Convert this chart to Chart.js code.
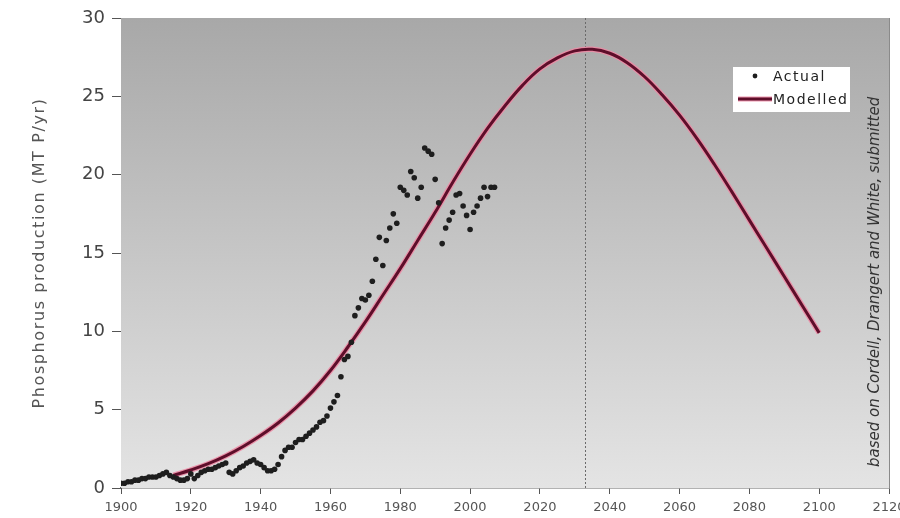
<!DOCTYPE html>
<html>
<head>
<meta charset="utf-8">
<script src="https://cdn.jsdelivr.net/npm/chart.js@4.4.1/dist/chart.umd.min.js"></script>
<style>
  html, body { margin: 0; padding: 0; background: #fff; }
  #wrap { width: 900px; height: 518px; }
</style>
</head>
<body>
<div id="wrap"><canvas id="phosChart" width="900" height="518"></canvas></div>
<script>
// Actual production (one dot per year)
const actualYears = [
  1900, 1901, 1902, 1903, 1904, 1905, 1906, 1907, 1908, 1909,
  1910, 1911, 1912, 1913, 1914, 1915, 1916, 1917, 1918, 1919,
  1920, 1921, 1922, 1923, 1924, 1925, 1926, 1927, 1928, 1929,
  1930, 1931, 1932, 1933, 1934, 1935, 1936, 1937, 1938, 1939,
  1940, 1941, 1942, 1943, 1944, 1945, 1946, 1947, 1948, 1949,
  1950, 1951, 1952, 1953, 1954, 1955, 1956, 1957, 1958, 1959,
  1960, 1961, 1962, 1963, 1964, 1965, 1966, 1967, 1968, 1969,
  1970, 1971, 1972, 1973, 1974, 1975, 1976, 1977, 1978, 1979,
  1980, 1981, 1982, 1983, 1984, 1985, 1986, 1987, 1988, 1989,
  1990, 1991, 1992, 1993, 1994, 1995, 1996, 1997, 1998, 1999,
  2000, 2001, 2002, 2003, 2004, 2005, 2006, 2007
];
const actualValues = [
  0.3, 0.3, 0.4, 0.4, 0.5, 0.5, 0.6, 0.6, 0.7, 0.7,
  0.7, 0.8, 0.9, 1.0, 0.8, 0.7, 0.6, 0.5, 0.5, 0.6,
  0.9, 0.6, 0.8, 1.0, 1.1, 1.2, 1.2, 1.3, 1.4, 1.5,
  1.6, 1.0, 0.9, 1.1, 1.3, 1.4, 1.6, 1.7, 1.8, 1.6,
  1.5, 1.3, 1.1, 1.1, 1.2, 1.5, 2.0, 2.4, 2.6, 2.6,
  2.9, 3.1, 3.1, 3.3, 3.5, 3.7, 3.9, 4.2, 4.3, 4.6,
  5.1, 5.5, 5.9, 7.1, 8.2, 8.4, 9.3, 11.0, 11.5, 12.1,
  12.0, 12.3, 13.2, 14.6, 16.0, 14.2, 15.8, 16.6, 17.5, 16.9,
  19.2, 19.0, 18.7, 20.2, 19.8, 18.5, 19.2, 21.7, 21.5, 21.3,
  19.7, 18.2, 15.6, 16.6, 17.1, 17.6, 18.7, 18.8, 18.0, 17.4,
  16.5, 17.6, 18.0, 18.5, 19.2, 18.6, 19.2, 19.2
];

// Modelled curve (Hubbert-style peak)
const modelYears = [
  1915, 1920, 1925, 1930, 1935, 1940, 1945, 1950, 1955, 1960,
  1965, 1970, 1975, 1980, 1985, 1990, 1995, 2000, 2005, 2010,
  2015, 2020, 2025, 2030, 2035, 2040, 2045, 2050, 2055, 2060,
  2065, 2070, 2075, 2080, 2085, 2090, 2095, 2100
];
const modelValues = [
  0.8, 1.15, 1.55, 2.05, 2.65, 3.35, 4.15, 5.1, 6.2, 7.5,
  9.0, 10.6, 12.3, 14.0, 15.8, 17.6, 19.5, 21.3, 22.95, 24.4,
  25.7, 26.75, 27.45, 27.9, 28.0, 27.75, 27.15, 26.25, 25.1, 23.8,
  22.3, 20.65, 18.9, 17.1, 15.3, 13.5, 11.7, 9.9
];

const peakYear = 2033;
const xTicks = [1900, 1920, 1940, 1960, 1980, 2000, 2020, 2040, 2060, 2080, 2100, 2120];
const yTicks = [0, 5, 10, 15, 20, 25, 30];

const yTitle = 'Phosphorus production (MT P/yr)';
const sourceNote = 'based on Cordell, Drangert and White, submitted';
const legendLabels = ['Actual', 'Modelled'];

const actualPoints = actualYears.map((yr, i) => ({ x: yr, y: actualValues[i] }));
const modelPoints = modelYears.map((yr, i) => ({ x: yr, y: modelValues[i] }));

const FONT = "'DejaVu Sans', sans-serif";
const HALO = 'rgba(236,140,165,0.9)';
const CORE = '#5e0e2a';

// grey gradient behind the plot, right border, dotted peak marker
const plotDecor = {
  id: 'plotDecor',
  beforeDatasetsDraw(chart) {
    const { ctx, chartArea: a, scales } = chart;
    ctx.save();
    const g = ctx.createLinearGradient(0, a.top, 0, a.bottom);
    g.addColorStop(0, '#a8a8a8');
    g.addColorStop(1, '#e4e4e4');
    ctx.fillStyle = g;
    ctx.fillRect(a.left, a.top, a.right - a.left, a.bottom - a.top);

    ctx.strokeStyle = '#8a8a8a';
    ctx.lineWidth = 1;
    ctx.beginPath();
    ctx.moveTo(a.right + 0.5, a.top);
    ctx.lineTo(a.right + 0.5, a.bottom);
    ctx.stroke();

    const px = Math.round(scales.x.getPixelForValue(peakYear)) + 0.5;
    ctx.strokeStyle = '#6a6a6a';
    ctx.setLineDash([2, 2]);
    ctx.beginPath();
    ctx.moveTo(px, a.top);
    ctx.lineTo(px, a.bottom);
    ctx.stroke();
    ctx.restore();
  },
  afterDraw(chart) {
    const { ctx, chartArea: a } = chart;
    ctx.save();
    // y axis title, spaced out like the original geometric face
    ctx.save();
    ctx.translate(44, (a.top + a.bottom) / 2);
    ctx.rotate(-Math.PI / 2);
    ctx.font = '16px ' + FONT;
    ctx.letterSpacing = '1.6px';
    ctx.fillStyle = '#555';
    ctx.textAlign = 'center';
    ctx.textBaseline = 'alphabetic';
    ctx.fillText(yTitle, 0, 0);
    ctx.restore();

    // legend box
    const bx = a.right - 156, by = a.top + 49, bw = 117, bh = 45;
    ctx.fillStyle = '#ffffff';
    ctx.fillRect(bx, by, bw, bh);
    ctx.fillStyle = '#1e1e1e';
    ctx.beginPath();
    ctx.arc(bx + 22, by + 9, 2.4, 0, Math.PI * 2);
    ctx.fill();
    [[HALO, 5], [CORE, 3]].forEach(([c, w]) => {
      ctx.strokeStyle = c;
      ctx.lineWidth = w;
      ctx.beginPath();
      ctx.moveTo(bx + 5, by + 32);
      ctx.lineTo(bx + 39, by + 32);
      ctx.stroke();
    });
    ctx.fillStyle = '#222';
    ctx.font = '14px ' + FONT;
    ctx.letterSpacing = '1.5px';
    ctx.textBaseline = 'middle';
    ctx.fillText(legendLabels[0], bx + 40, by + 10);
    ctx.fillText(legendLabels[1], bx + 40, by + 33);
    ctx.letterSpacing = '0px';

    // source note, rotated
    ctx.translate(a.right - 10, a.bottom - 21);
    ctx.rotate(-Math.PI / 2);
    ctx.font = 'italic 15px ' + FONT;
    ctx.fillStyle = '#333';
    ctx.textAlign = 'left';
    ctx.textBaseline = 'alphabetic';
    ctx.fillText(sourceNote, 0, 0);
    ctx.restore();
  }
};

new Chart(document.getElementById('phosChart'), {
  type: 'scatter',
  data: {
    datasets: [
      {
        label: legendLabels[0],
        data: actualPoints,
        pointRadius: 2.8,
        pointBackgroundColor: '#1e1e1e',
        pointBorderWidth: 0,
        order: 0
      },
      {
        label: legendLabels[1],
        data: modelPoints,
        showLine: true,
        borderColor: CORE,
        borderWidth: 3,
        pointRadius: 0,
        tension: 0.4,
        order: 1
      },
      {
        label: 'halo',
        data: modelPoints,
        showLine: true,
        borderColor: HALO,
        borderWidth: 5.5,
        pointRadius: 0,
        tension: 0.4,
        order: 2
      }
    ]
  },
  options: {
    responsive: false,
    animation: false,
    devicePixelRatio: 1,
    layout: { padding: { left: 0, right: 11, top: 18, bottom: 0 } },
    plugins: {
      legend: { display: false },
      tooltip: { enabled: false }
    },
    scales: {
      x: {
        type: 'linear',
        min: 1900,
        max: 2120,
        afterBuildTicks: (s) => { s.ticks = xTicks.map(v => ({ value: v })); },
        afterFit: (s) => { s.height = 30; s.paddingLeft = 0; s.paddingRight = 0; },
        grid: { drawOnChartArea: false, drawTicks: true, tickLength: 6, tickColor: '#555' },
        border: { color: '#666', width: 1.5 },
        ticks: {
          color: '#555', padding: 6, maxRotation: 0,
          font: { family: FONT, size: 13 },
          callback: (v) => String(v)
        }
      },
      y: {
        min: 0,
        max: 30,
        afterBuildTicks: (s) => { s.ticks = yTicks.map(v => ({ value: v })); },
        afterFit: (s) => { s.width = 121; s.paddingTop = 0; s.paddingBottom = 0; },
        grid: { drawOnChartArea: false, drawTicks: true, tickLength: 9, tickColor: '#555' },
        border: { color: '#555', width: 1 },
        ticks: { color: '#444', padding: 7, font: { family: FONT, size: 18 } }
      }
    }
  },
  plugins: [plotDecor]
});
</script>
</body>
</html>
